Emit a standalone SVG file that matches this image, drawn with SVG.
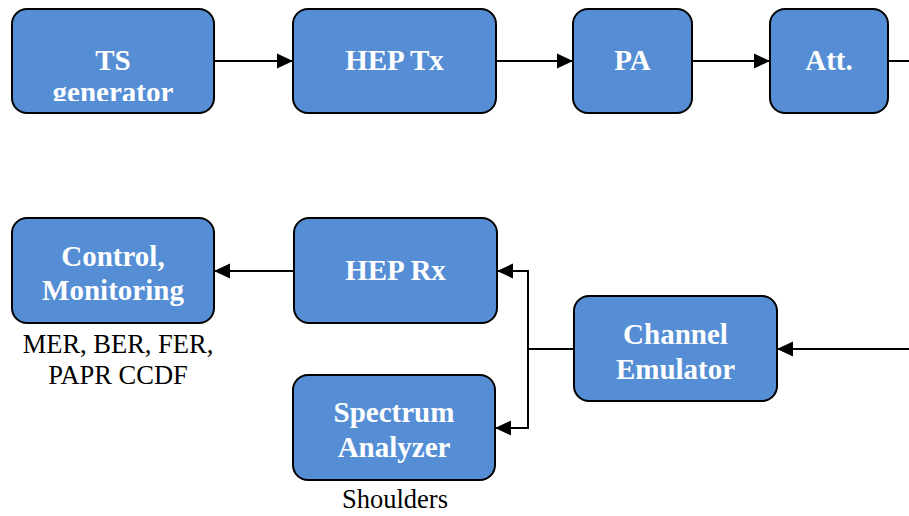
<svg xmlns="http://www.w3.org/2000/svg" width="909" height="516" viewBox="0 0 909 516">
  <style>
    .box { fill: #558ed5; stroke: #000; stroke-width: 2; }
    .lbl { font-family: "Liberation Serif", "Times New Roman", serif; font-weight: bold; font-size: 29px; fill: #fff; text-anchor: middle; }
    .note { font-family: "Liberation Serif", "Times New Roman", serif; font-size: 26.5px; fill: #000; text-anchor: middle; }
    .wire { fill: none; stroke: #000; stroke-width: 2; }
  </style>
  <defs>
    <marker id="arrow" markerUnits="userSpaceOnUse" markerWidth="16" markerHeight="16" viewBox="0 0 15 14" refX="15" refY="7" orient="auto">
      <path d="M0,0 L15,7 L0,14 z" fill="#000"/>
    </marker>
    <clipPath id="tsClip">
      <rect x="12" y="9" width="202" height="92"/>
    </clipPath>
  </defs>

  <!-- connectors -->
  <g id="connectors">
    <line class="wire" x1="214" y1="61" x2="293" y2="61" marker-end="url(#arrow)"/>
    <line class="wire" x1="496" y1="61" x2="573" y2="61" marker-end="url(#arrow)"/>
    <line class="wire" x1="692" y1="61" x2="770" y2="61" marker-end="url(#arrow)"/>
    <line class="wire" x1="888" y1="61" x2="909" y2="61"/>
    <line class="wire" x1="909" y1="349" x2="777" y2="349" marker-end="url(#arrow)"/>
    <line class="wire" x1="574" y1="349" x2="528" y2="349"/>
    <line class="wire" x1="528" y1="270" x2="528" y2="429"/>
    <line class="wire" x1="529" y1="271" x2="497" y2="271" marker-end="url(#arrow)"/>
    <line class="wire" x1="529" y1="428" x2="495" y2="428" marker-end="url(#arrow)"/>
    <line class="wire" x1="294" y1="271" x2="214" y2="271" marker-end="url(#arrow)"/>
  </g>

  <g id="ts-generator">
    <rect class="box" x="12" y="9" width="202" height="104" rx="15"/>
    <g clip-path="url(#tsClip)">
      <text class="lbl" x="113" y="70">TS</text>
      <text class="lbl" x="113" y="102">generator</text>
    </g>
  </g>

  <g id="hep-tx">
    <rect class="box" x="293" y="9" width="203" height="104" rx="15"/>
    <text class="lbl" x="394.5" y="70">HEP Tx</text>
  </g>

  <g id="pa">
    <rect class="box" x="573" y="9" width="119" height="104" rx="15"/>
    <text class="lbl" x="632.5" y="70">PA</text>
  </g>

  <g id="att">
    <rect class="box" x="770" y="9" width="118" height="104" rx="15"/>
    <text class="lbl" x="829" y="70">Att.</text>
  </g>

  <g id="control-monitoring">
    <rect class="box" x="12" y="218" width="202" height="105" rx="15"/>
    <text class="lbl" x="113" y="266">Control,</text>
    <text class="lbl" x="113" y="300">Monitoring</text>
    <text class="note" x="118" y="353">MER, BER, FER,</text>
    <text class="note" x="118" y="384">PAPR CCDF</text>
  </g>

  <g id="hep-rx">
    <rect class="box" x="294" y="218" width="203" height="105" rx="15"/>
    <text class="lbl" x="395.5" y="280">HEP Rx</text>
  </g>

  <g id="spectrum-analyzer">
    <rect class="box" x="293" y="375" width="202" height="105" rx="15"/>
    <text class="lbl" x="394" y="422">Spectrum</text>
    <text class="lbl" x="394" y="457">Analyzer</text>
    <text class="note" x="395" y="508">Shoulders</text>
  </g>

  <g id="channel-emulator">
    <rect class="box" x="574" y="296" width="203" height="105" rx="15"/>
    <text class="lbl" x="675.5" y="344">Channel</text>
    <text class="lbl" x="675.5" y="379">Emulator</text>
  </g>
</svg>
